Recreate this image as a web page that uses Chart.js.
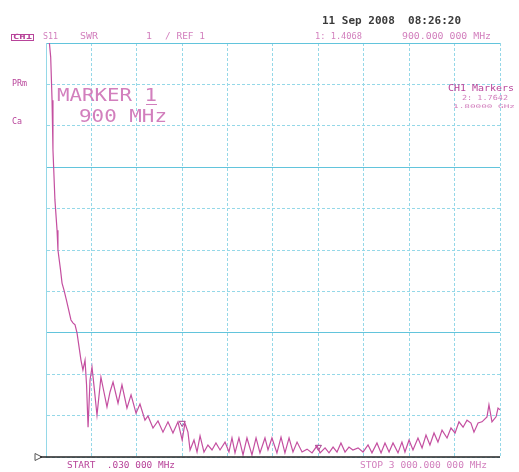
<!DOCTYPE html>
<html>
<head>
<meta charset="utf-8">
<script src="https://cdn.jsdelivr.net/npm/chart.js@4.4.1/dist/chart.umd.min.js"></script>
<style>
html,body{margin:0;padding:0;background:#fff;}
#c{display:block;}
</style>
</head>
<body>
<canvas id="c" width="519" height="472"></canvas>
<script>
// Frequency (MHz) of each trace sample
const freqMHz = [0.03,20,31,40,46,59,73,79,96,106,119,135,165,178,192,205,231,244,258,268,278,291,304,320,337,363,383,403,423,443,476,502,535,562,595,621,654,674,707,740,773,806,839,872,900,918,938,952,978,998,1018,1044,1070,1097,1123,1150,1183,1209,1229,1249,1275,1302,1328,1361,1388,1414,1447,1467,1493,1526,1553,1579,1606,1632,1659,1692,1725,1758,1791,1811,1844,1870,1897,1923,1949,1976,2002,2028,2062,2095,2128,2154,2187,2214,2240,2267,2293,2326,2352,2372,2399,2425,2458,2485,2511,2537,2564,2590,2617,2650,2676,2703,2729,2756,2782,2808,2828,2855,2881,2914,2927,2947,2974,2987,3000];
// SWR of S11 at each sample
const swr = [14,11.1,10.66,9.62,8.42,7.21,6.48,6.0,5.52,5.20,5.03,4.79,4.31,4.24,4.19,4.0,3.34,3.10,3.34,2.74,1.72,2.86,3.17,2.62,2.01,2.93,2.57,2.21,2.57,2.81,2.30,2.74,2.18,2.50,2.06,2.28,1.89,1.99,1.70,1.87,1.60,1.85,1.58,1.85,1.41,1.82,1.60,1.17,1.41,1.12,1.51,1.12,1.29,1.17,1.34,1.17,1.36,1.12,1.46,1.10,1.46,1.05,1.46,1.05,1.46,1.10,1.46,1.17,1.46,1.10,1.48,1.10,1.46,1.12,1.36,1.12,1.19,1.10,1.27,1.10,1.22,1.10,1.24,1.12,1.34,1.12,1.24,1.17,1.22,1.12,1.29,1.10,1.34,1.10,1.34,1.12,1.34,1.10,1.36,1.12,1.41,1.17,1.46,1.22,1.53,1.29,1.58,1.36,1.65,1.46,1.70,1.58,1.85,1.72,1.89,1.82,1.60,1.82,1.85,1.97,2.26,1.85,1.97,2.18,2.14];
// Markers
const markerFreq = [900, 1800];
const markerSwr = [1.82, 1.24];
// Axis grid ticks
const xTicks = [0.03,300,600,900,1200,1500,1800,2100,2400,2700,3000];
const yMin = 1, yMax = 11, yStep = 1;

const MAG = '#b8449a';
const MAG_L = '#d27fbd';
const GRID = '#95d8e8';
const GRID_D = '#62c4dc';

function txt(ctx, s, x, y, font, color, w) {
  ctx.save();
  ctx.font = font;
  ctx.fillStyle = color;
  ctx.textBaseline = 'middle';
  const m = ctx.measureText(s).width;
  ctx.translate(x, y);
  if (w) ctx.scale(w / m, 1);
  ctx.fillText(s, 0, 0);
  ctx.restore();
}

const overlay = {
  id: 'overlay',
  afterDraw(chart) {
    const ctx = chart.ctx;
    const mono = '"DejaVu Sans Mono", monospace';
    txt(ctx, '11 Sep 2008  08:26:20', 322, 21, 'bold 11px ' + mono, '#3a3a3a', 139);
    // header left
    ctx.save();
    ctx.strokeStyle = MAG; ctx.lineWidth = 1;
    ctx.strokeRect(11.5, 34.5, 22, 6);
    ctx.restore();
    txt(ctx, 'CH1', 13, 37.5, 'bold 7px ' + mono, MAG, 19);
    txt(ctx, 'S11', 43, 37, '8px ' + mono, MAG_L, 15);
    txt(ctx, 'SWR', 80, 37, '8px ' + mono, MAG_L, 18);
    txt(ctx, '1', 146, 37, '8px ' + mono, MAG_L, 6);
    txt(ctx, '/ REF 1', 165, 37, '8px ' + mono, MAG_L, 40);
    txt(ctx, '1: 1.4068', 315, 37, '8px ' + mono, MAG_L, 47);
    txt(ctx, '900.000 000 MHz', 402, 37, '8px ' + mono, MAG_L, 89);
    txt(ctx, 'PRm', 12, 84, '8px ' + mono, MAG, 15);
    txt(ctx, 'Ca', 12, 122, '8px ' + mono, MAG, 10);
    // marker annotation
    txt(ctx, 'MARKER 1', 57, 97, '17px ' + mono, MAG_L, 100);
    ctx.save(); ctx.strokeStyle = MAG_L; ctx.lineWidth = 1;
    ctx.beginPath(); ctx.moveTo(146, 104.5); ctx.lineTo(157, 104.5); ctx.stroke(); ctx.restore();
    txt(ctx, '900 MHz', 79, 118, '17px ' + mono, MAG_L, 88);
    // right markers block
    txt(ctx, 'CH1 Markers', 448, 89, '8px ' + mono, MAG, 66);
    txt(ctx, '2: 1.7642', 462, 98, '7px ' + mono, MAG_L, 46);
    txt(ctx, '1.80000 GHz', 453, 107, '5px ' + mono, MAG_L, 62);
    // bottom labels
    txt(ctx, 'START  .030 000 MHz', 67, 466, '8px ' + mono, MAG, 108);
    txt(ctx, 'STOP 3 000.000 000 MHz', 360, 466, '8px ' + mono, MAG_L, 127);
    // reference level indicator and solid baseline
    const ys = chart.scales.y, xs = chart.scales.x;
    const yr = ys.getPixelForValue(yMin);
    ctx.save();
    ctx.strokeStyle = '#555'; ctx.lineWidth = 1;
    ctx.beginPath(); ctx.moveTo(35, yr - 3.5); ctx.lineTo(42, yr); ctx.lineTo(35, yr + 3.5); ctx.closePath(); ctx.stroke();
    ctx.strokeStyle = '#222'; ctx.lineWidth = 1.6;
    ctx.beginPath(); ctx.moveTo(40, yr); ctx.lineTo(xs.right, yr); ctx.stroke();
    ctx.restore();
  }
};

const chart = new Chart(document.getElementById('c'), {
  type: 'line',
  data: {
    datasets: [
      {
        data: freqMHz.map((f, i) => ({x: f, y: swr[i]})),
        borderColor: '#c44fa0',
        borderWidth: 1.2,
        pointRadius: 0,
        tension: 0,
        clip: 0
      },
      {
        data: markerFreq.map((f, i) => ({x: f, y: markerSwr[i]})),
        showLine: false,
        pointStyle: 'triangle',
        rotation: 180,
        pointRadius: 3.5,
        pointBorderColor: '#a33f8c',
        pointBackgroundColor: 'rgba(0,0,0,0)',
        pointBorderWidth: 1
      }
    ]
  },
  options: {
    responsive: false,
    animation: false,
    events: [],
    layout: {padding: {left: 46, right: 19, top: 43, bottom: 15}},
    plugins: {legend: {display: false}, tooltip: {enabled: false}},
    scales: {
      x: {
        type: 'linear',
        min: xTicks[0],
        max: xTicks[xTicks.length - 1],
        afterBuildTicks: s => { s.ticks = xTicks.map(v => ({value: v})); },
        ticks: {display: false},
        grid: {drawTicks: false, color: GRID, lineWidth: 1},
        border: {display: false, dash: [3, 2]}
      },
      y: {
        type: 'linear',
        min: yMin,
        max: yMax,
        ticks: {display: false, stepSize: yStep},
        grid: {
          drawTicks: false,
          lineWidth: 1,
          color: c => (c.tick && (c.tick.value === 4 || c.tick.value === 8 || c.tick.value === 11)) ? GRID_D : GRID
        },
        border: {
          display: true, color: GRID, width: 1,
          dash: c => (c.tick && (c.tick.value === 4 || c.tick.value === 8 || c.tick.value === 11)) ? [] : [3, 2]
        }
      }
    }
  },
  plugins: [overlay]
});
</script>
</body>
</html>
